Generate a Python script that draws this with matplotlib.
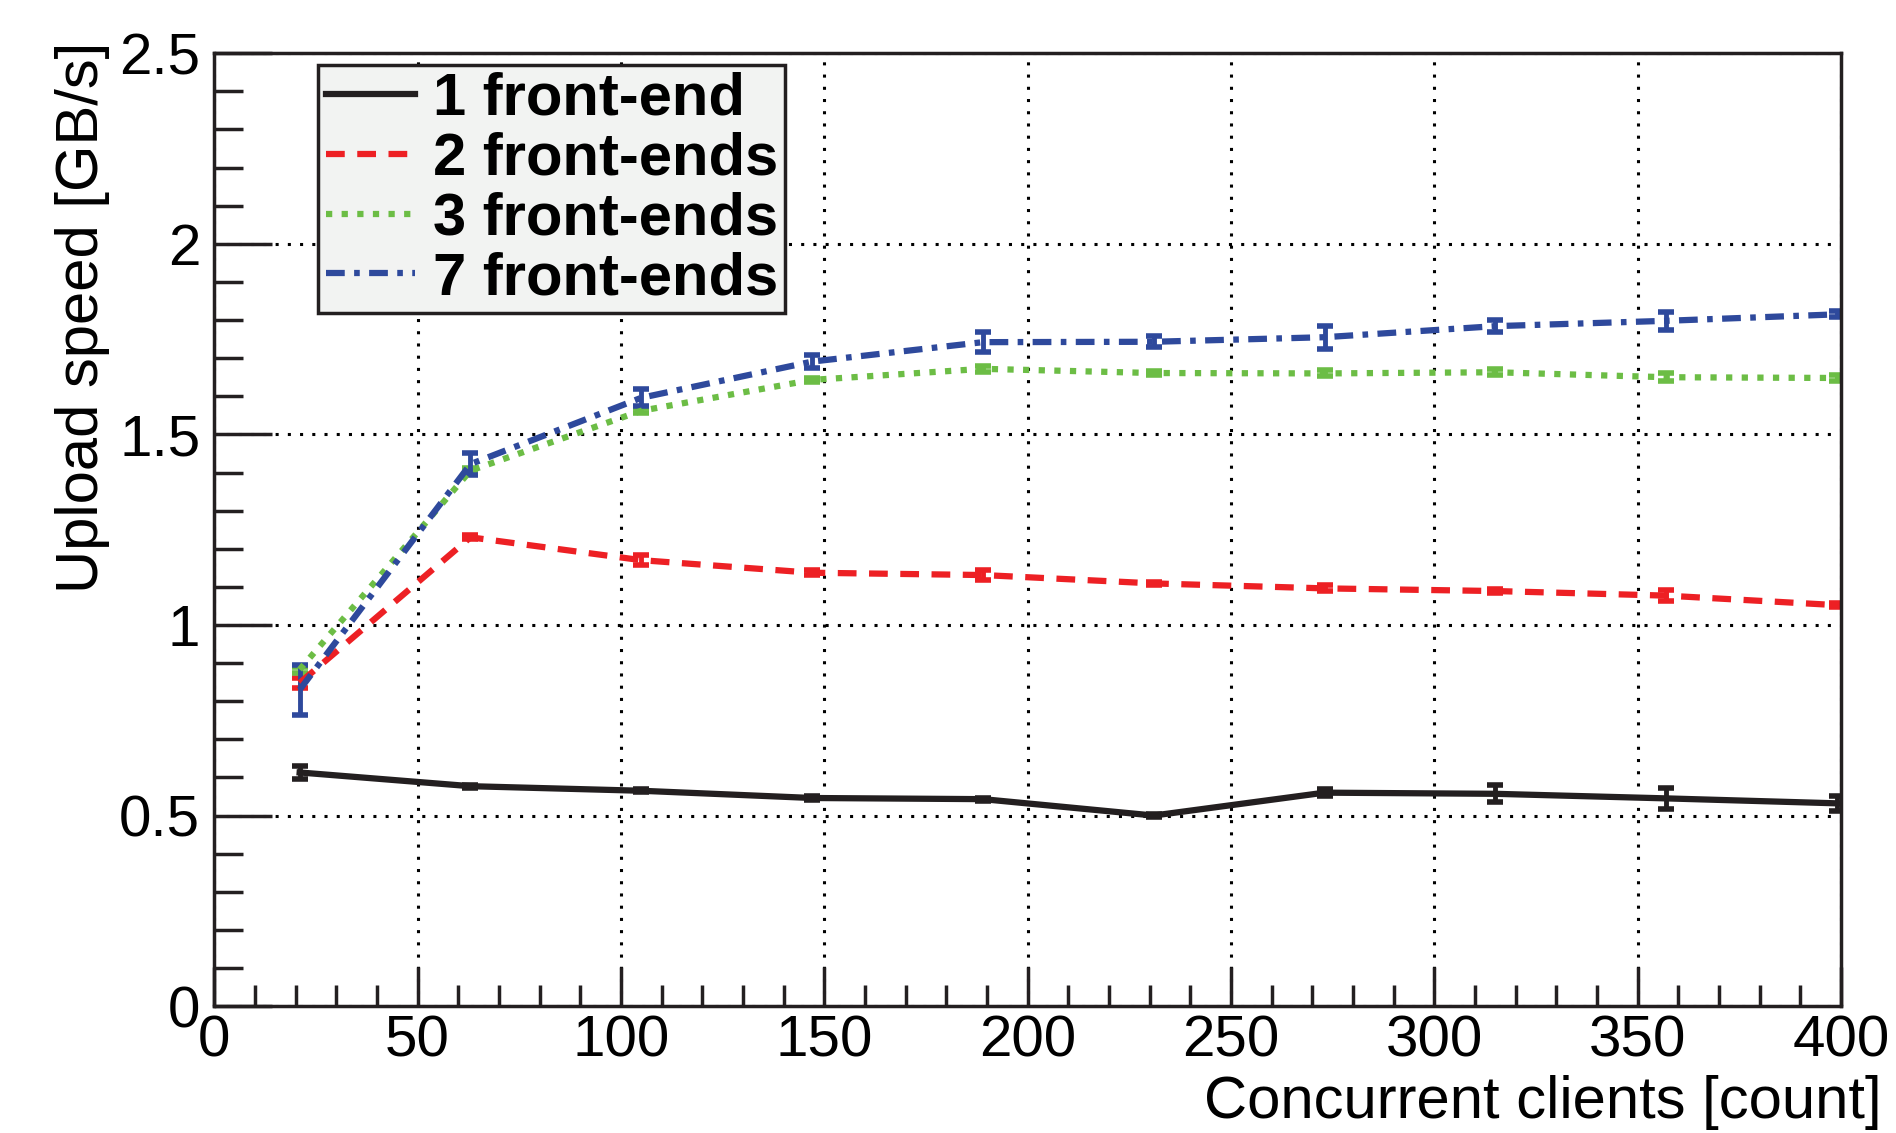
import matplotlib
matplotlib.use("Agg")
import matplotlib.pyplot as plt
from matplotlib.ticker import MultipleLocator

plt.rcParams['font.family'] = ['Liberation Sans', 'DejaVu Sans']

clients = [21, 63, 105, 147, 189, 231, 273, 315, 357, 399]

fe1 = [0.613, 0.577, 0.565, 0.546, 0.543, 0.500, 0.560, 0.557, 0.545, 0.532]
fe1_err = [0.016, 0.004, 0.004, 0.005, 0.004, 0.004, 0.010, 0.022, 0.028, 0.020]

fe2 = [0.848, 1.230, 1.170, 1.137, 1.131, 1.109, 1.096, 1.089, 1.077, 1.052]
fe2_err = [0.014, 0.005, 0.013, 0.006, 0.012, 0.005, 0.008, 0.006, 0.014, 0.006]

fe3 = [0.883, 1.405, 1.562, 1.643, 1.672, 1.661, 1.660, 1.663, 1.650, 1.648]
fe3_err = [0.008, 0.006, 0.006, 0.006, 0.008, 0.006, 0.008, 0.008, 0.010, 0.008]

fe7 = [0.830, 1.422, 1.596, 1.691, 1.742, 1.743, 1.755, 1.784, 1.798, 1.815]
fe7_err = [0.065, 0.028, 0.022, 0.016, 0.026, 0.014, 0.030, 0.016, 0.024, 0.008]

labels = ['1 front-end', '2 front-ends', '3 front-ends', '7 front-ends']

fig = plt.figure(figsize=(18.96, 11.33), dpi=100)
ax = fig.add_axes([0.113, 0.112, 0.858, 0.841])

common = dict(lw=4.5, capsize=6, capthick=4, elinewidth=3.5)
e1 = ax.errorbar(clients, fe1, yerr=fe1_err, color='#231f20', ls='-', **common)
e2 = ax.errorbar(clients, fe2, yerr=fe2_err, color='#ed2024', ls=(0, (3.0, 2.0)), **common)
e3 = ax.errorbar(clients, fe3, yerr=fe3_err, color='#6cbd45', ls=(0, (1.0, 1.5)), **common)
e4 = ax.errorbar(clients, fe7, yerr=fe7_err, color='#2e499c', ls=(0, (3.0, 1.5, 0.9, 1.5)), **common)

ax.set_xlim(0, 400)
ax.set_ylim(0, 2.5)
ax.xaxis.set_major_locator(MultipleLocator(50))
ax.xaxis.set_minor_locator(MultipleLocator(10))
ax.yaxis.set_major_locator(MultipleLocator(0.5))
ax.yaxis.set_minor_locator(MultipleLocator(0.1))
ax.set_yticks([0, 0.5, 1, 1.5, 2, 2.5], ['0', '0.5', '1', '1.5', '2', '2.5'])

ax.tick_params(which='both', direction='in', top=False, right=False,
               labelsize=42, width=2.5, color='#231f20')
ax.tick_params(axis='x', which='major', length=28, pad=6)
ax.tick_params(axis='x', which='minor', length=15)
ax.tick_params(axis='y', which='major', length=42, pad=10)
ax.tick_params(axis='y', which='minor', length=21)
for s in ax.spines.values():
    s.set_linewidth(2.5)
    s.set_color('#231f20')

ax.grid(True, which='major', color='black', ls=(0, (1, 3)), lw=2.2)

ax.set_xlabel('Concurrent clients [count]', fontsize=43, ha='right')
ax.xaxis.set_label_coords(1.025, -0.072)
ax.set_ylabel('Upload speed [GB/s]', fontsize=43, ha='right')
ax.yaxis.set_label_coords(-0.064, 1.012)

handles = [e1.lines[0], e2.lines[0], e3.lines[0], e4.lines[0]]
leg = ax.legend(handles, labels, loc='upper left', bbox_to_anchor=(0.064, 0.988),
                prop={'weight': 'bold', 'size': 43}, frameon=True, fancybox=False,
                handlelength=1.5, handletextpad=0.3, borderpad=0.12, labelspacing=0.08,
                borderaxespad=0)
leg.get_frame().set_facecolor('#f2f3f2')
leg.get_frame().set_edgecolor('#231f20')
leg.get_frame().set_linewidth(2.5)
leg.get_frame().set_alpha(1)

fig.savefig('out.png', dpi=100)
